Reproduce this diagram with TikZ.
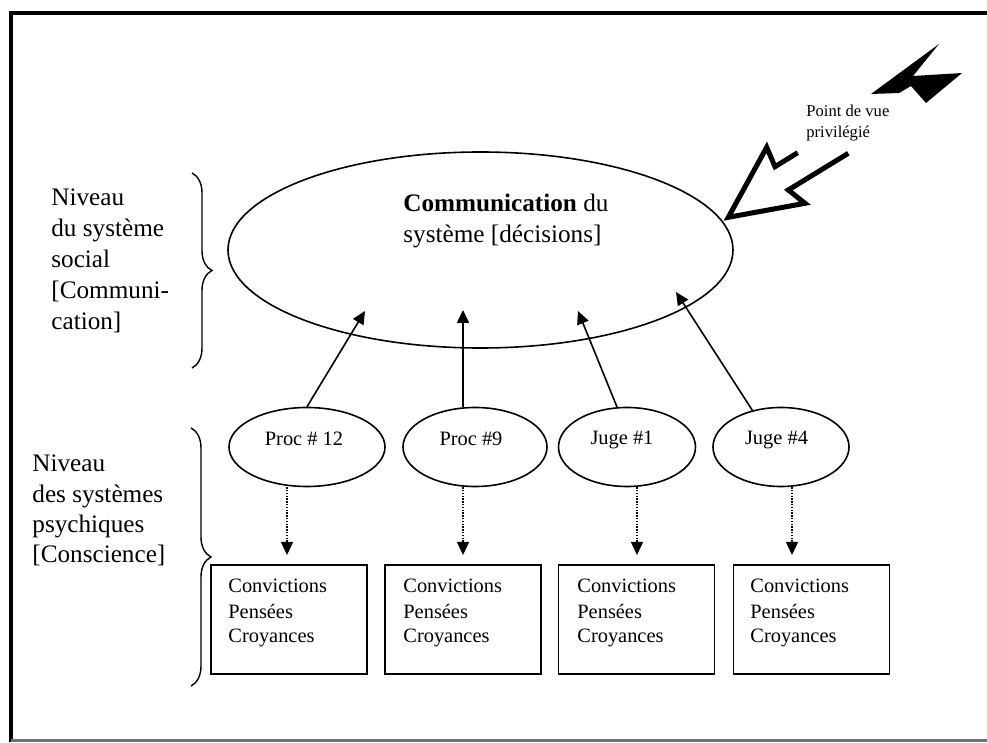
\documentclass[tikz,border=0pt]{standalone}
\usepackage{fontspec}
\setmainfont{Liberation Serif}
\usetikzlibrary{arrows.meta,shapes.geometric,decorations.pathreplacing}
\begin{document}
\begin{tikzpicture}[x=0.5pt,y=-0.5pt,
  bigoval/.style={draw, ellipse, line width=0.8pt, inner sep=0pt,
    minimum width=252.5pt, minimum height=98pt},
  agent/.style={draw, ellipse, line width=0.8pt, inner sep=0pt, minimum height=39.5pt},
  psybox/.style={draw, rectangle, line width=0.8pt, inner sep=0pt,
    minimum width=78pt, minimum height=54.5pt},
  lvl/.style={font=\fontsize{12.6pt}{15.6pt}\selectfont, align=left, anchor=base west, inner sep=0pt},
  agentlabel/.style={font=\fontsize{10.2pt}{12.5pt}\selectfont, anchor=base, inner sep=0pt},
  boxtext/.style={font=\fontsize{10.2pt}{12.5pt}\selectfont, align=left, anchor=base west, inner sep=0pt},
  note/.style={font=\fontsize{8.3pt}{10.5pt}\selectfont, align=left, anchor=base west, inner sep=0pt},
  up/.style={-{Triangle[length=6.5pt,width=6pt]}, line width=0.8pt},
  down/.style={-{Triangle[length=6.5pt,width=6pt]}, line width=0.6pt, dash pattern=on 0.7pt off 0.7pt},
  levelbrace/.style={decorate, decoration={brace, amplitude=10pt}, line width=0.7pt},
]
\useasboundingbox (0,0) rectangle (987,743);

% outer frame, open on the right
\draw[line width=1.8pt] (987,13) -- (11,13) -- (11,742);
\draw[line width=1.5pt, black!55] (11,741) -- (987,741);

% level labels and braces (anchored on the baseline of their last line)
\node[lvl] (lsoc) at (51,330) {Niveau\\du système\\social\\{[}Communi-\\cation{]}};
\node[lvl, font=\fontsize{12.6pt}{15.2pt}\selectfont] (lpsy) at (32,563) {Niveau\\des systèmes\\psychiques\\{[}Conscience{]}};
\draw[levelbrace] (192,173) -- (192,368);
\draw[levelbrace] (191,428) -- (191,686);

% social system
\node[bigoval] (com) at (480.5,250) {};
\node[lvl, font=\fontsize{12.6pt}{15.5pt}\selectfont] (comt) at (403,243) {\textbf{Communication} du\\système {[}décisions{]}};

% psychic systems
\node[agent, minimum width=78pt] (p12) at (307,447) {};
\node[agent, minimum width=72pt] (p9) at (475,447) {};
\node[agent, minimum width=68.5pt] (j1) at (627,447) {};
\node[agent, minimum width=68pt] (j4) at (781,447) {};
\node[agentlabel] (p12t) at (304,446) {Proc \# 12};
\node[agentlabel] (p9t) at (471,446) {Proc \#9};
\node[agentlabel] (j1t) at (622,445) {Juge \#1};
\node[agentlabel] (j4t) at (776.5,445) {Juge \#4};

\node[psybox] (b1) at (289,619.5) {};
\node[psybox] (b2) at (463,619.5) {};
\node[psybox] (b3) at (636.5,619.5) {};
\node[psybox] (b4) at (811.5,619.5) {};
\node[boxtext] (b1t) at (228,643) {Convictions\\Pensées\\Croyances};
\node[boxtext] (b2t) at (403,643) {Convictions\\Pensées\\Croyances};
\node[boxtext] (b3t) at (577,643) {Convictions\\Pensées\\Croyances};
\node[boxtext] (b4t) at (750,643) {Convictions\\Pensées\\Croyances};

% contributions to the communication
\coordinate (c1) at (365,311);
\coordinate (c2) at (463,310);
\coordinate (c3) at (578,311);
\coordinate (c4) at (676,292);
\draw[up] (p12.north) -- (c1);
\draw[up] (c2 |- p9.north) -- (c2);
\draw[up] (j1.104) -- (c3);
\draw[up] (j4.128) -- (c4);

% links down to the psychic contents
\coordinate (e1) at (287,555);
\coordinate (e2) at (463,555);
\coordinate (e3) at (637,555);
\coordinate (e4) at (792,555);
\draw[down] (e1 |- p12.south) -- (e1);
\draw[down] (e2 |- p9.south) -- (e2);
\draw[down] (e3 |- j1.south) -- (e3);
\draw[down] (e4 |- j4.south) -- (e4);

% privileged viewpoint: lightning bolt and hollow zigzag arrow
\fill (939,44) -- (871,94) -- (899,93) -- (911,86) -- (926,103) -- (962,73) -- (913,76) -- cycle;
\draw[line width=2.5pt, line join=miter, miter limit=10]
  (797.7,152.7) -- (775,166.7) -- (766.7,147.3) -- (728.3,217.3)
  -- (805,203.3) -- (788.3,190) -- (848.3,153.3);
\node[note] (pv) at (806,138) {Point de vue\\privilégié};
\end{tikzpicture}
\end{document}
